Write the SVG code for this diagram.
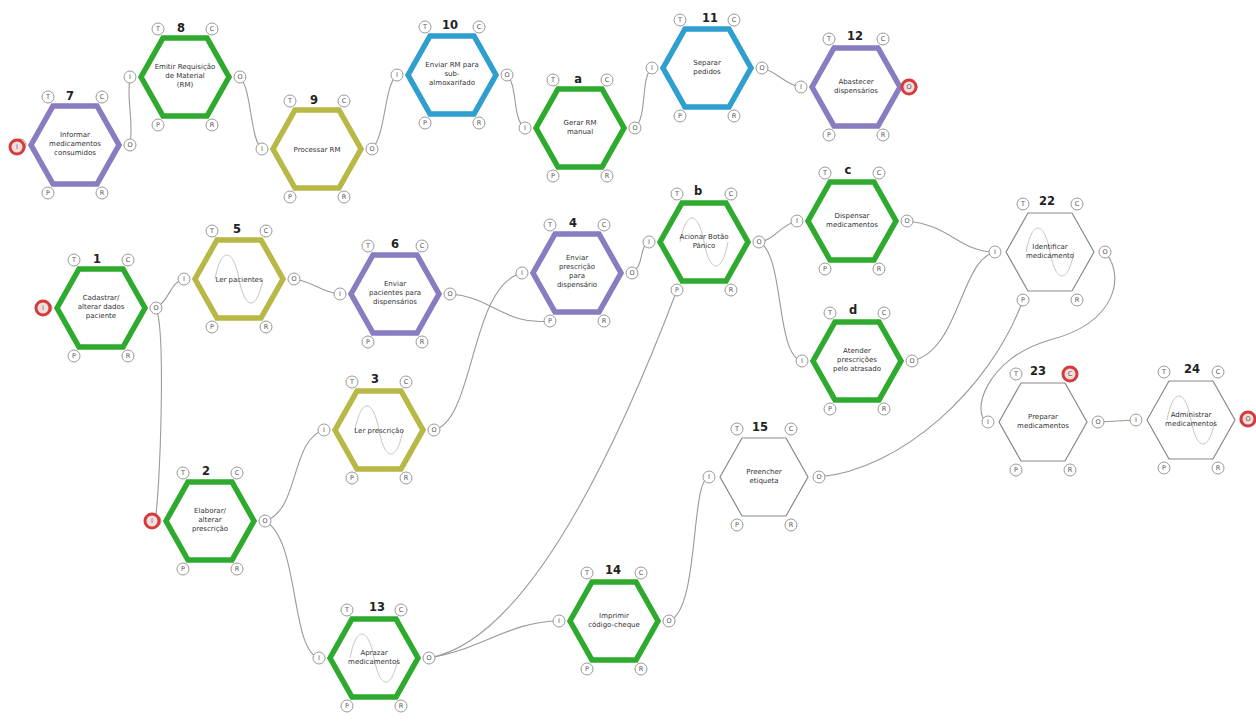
<svg xmlns="http://www.w3.org/2000/svg" xmlns:xlink="http://www.w3.org/1999/xlink" width="1256" height="725" viewBox="0 0 1256 725">
<style>
.hx{fill:#fff;stroke-width:5.5;stroke-linejoin:miter}
.g{stroke:#2eaa2e}
.p{stroke:#8a7cc0}
.y{stroke:#b8b846}
.b{stroke:#2f9fd0}
.w{stroke:#888;stroke-width:1.2}
.pc{fill:#fff;stroke:#999;stroke-width:1}
.pl{font-family:"DejaVu Sans",sans-serif;font-size:6.5px;fill:#555;text-anchor:middle;dominant-baseline:central}
.rc{fill:#f7dede;stroke:#d63a3a;stroke-width:3}
.lbl{font-family:"DejaVu Sans",sans-serif;font-weight:bold;font-size:11.5px;fill:#222;text-anchor:middle}
.tx{font-family:"DejaVu Sans",sans-serif;font-size:7px;fill:#333;text-anchor:middle}
.cn path{fill:none;stroke:#9a9a9a;stroke-width:1.1}
.wv{fill:none;stroke:#c4c4c4;stroke-width:1}
</style>
<defs>
<path id="hex" d="M-44,0 L-22,-39 L22,-39 L44,0 L22,39 L-22,39 Z"/>
<path id="wave" class="wv" d="M-24,0 C-18,-32 -6,-32 0,0 C6,32 18,32 24,0"/>
<g id="ports">
<circle class="pc" cx="-27" cy="-48" r="6"/><text class="pl" x="-27" y="-48">T</text>
<circle class="pc" cx="27" cy="-48" r="6"/><text class="pl" x="27" y="-48">C</text>
<circle class="pc" cx="-55" cy="0" r="6"/><text class="pl" x="-55" y="0">I</text>
<circle class="pc" cx="55" cy="0" r="6"/><text class="pl" x="55" y="0">O</text>
<circle class="pc" cx="-27" cy="48" r="6"/><text class="pl" x="-27" y="48">P</text>
<circle class="pc" cx="27" cy="48" r="6"/><text class="pl" x="27" y="48">R</text>
</g>
</defs>
<rect width="1256" height="725" fill="#fff"/>

<g class="cn" id="connectors">
<path d="M130,145 C134,120 126,100 130,77"/>
<path d="M240,77 C252,90 250,140 262,149"/>
<path d="M372,149 C386,135 384,85 397,75"/>
<path d="M507,75 C518,85 512,120 525,128"/>
<path d="M635,128 C648,115 640,78 652,68"/>
<path d="M762,68 C778,72 785,85 801,87"/>
<path d="M156,308 C170,300 170,282 184,279"/>
<path d="M156,308 C166,330 160,495 155,521"/>
<path d="M294,279 C315,282 320,292 340,294"/>
<path d="M450,294 C490,296 505,326 550,321"/>
<path d="M434,430 C475,420 470,285 522,273"/>
<path d="M265,521 C300,510 290,440 324,430"/>
<path d="M265,521 C300,540 290,650 319,658"/>
<path d="M632,273 C645,265 638,248 649,242"/>
<path d="M759,242 C775,240 780,225 797,221"/>
<path d="M759,242 C785,255 775,355 802,361"/>
<path d="M907,221 C950,225 960,252 995,252"/>
<path d="M912,361 C960,350 960,260 995,252"/>
<path d="M429,658 C530,640 620,440 677,290"/>
<path d="M429,658 C480,650 510,621 559,621"/>
<path d="M669,621 C700,610 690,480 709,477"/>
<path d="M819,477 C900,470 990,390 1023,300"/>
<path d="M1105,252 C1125,275 1118,322 1050,340 C985,358 970,415 988,422"/>
<path d="M1098,422 L1136,420"/>
</g>

<g id="n7" transform="translate(75,145)">
<use xlink:href="#hex" class="hx p"/><use xlink:href="#ports"/>
<circle class="rc" cx="-58" cy="2" r="7"/><text class="pl" x="-58" y="2">I</text>
<text class="lbl" x="-5" y="-45">7</text>
<text class="tx" y="-8">Informar</text><text class="tx" y="1">medicamentos</text><text class="tx" y="10">consumidos</text>
</g>
<g id="n8" transform="translate(185,77)">
<use xlink:href="#hex" class="hx g"/><use xlink:href="#ports"/>
<text class="lbl" x="-4" y="-45">8</text>
<text class="tx" y="-8">Emitir Requisição</text><text class="tx" y="1">de Material</text><text class="tx" y="10">(RM)</text>
</g>
<g id="n9" transform="translate(317,149)">
<use xlink:href="#hex" class="hx y"/><use xlink:href="#ports"/>
<text class="lbl" x="-3" y="-45">9</text>
<text class="tx" y="3">Processar RM</text>
</g>
<g id="n10" transform="translate(452,75)">
<use xlink:href="#hex" class="hx b"/><use xlink:href="#ports"/>
<text class="lbl" x="-2" y="-46">10</text>
<text class="tx" y="-8">Enviar RM para</text><text class="tx" y="1">sub-</text><text class="tx" y="10">almoxarifado</text>
</g>
<g id="na" transform="translate(580,128)">
<use xlink:href="#hex" class="hx g"/><use xlink:href="#ports"/>
<text class="lbl" x="-2" y="-45">a</text>
<text class="tx" y="-3">Gerar RM</text><text class="tx" y="6">manual</text>
</g>
<g id="n11" transform="translate(707,68)">
<use xlink:href="#hex" class="hx b"/><use xlink:href="#ports"/>
<text class="lbl" x="3" y="-46">11</text>
<text class="tx" y="-3">Separar</text><text class="tx" y="6">pedidos</text>
</g>
<g id="n12" transform="translate(856,87)">
<use xlink:href="#hex" class="hx p"/><use xlink:href="#ports"/>
<circle class="rc" cx="53" cy="0" r="7"/><text class="pl" x="53" y="0">O</text>
<text class="lbl" x="-1" y="-47">12</text>
<text class="tx" y="-3">Abastecer</text><text class="tx" y="6">dispensários</text>
</g>

<g id="n1" transform="translate(101,308)">
<use xlink:href="#hex" class="hx g"/><use xlink:href="#ports"/>
<circle class="rc" cx="-58" cy="0" r="7"/><text class="pl" x="-58" y="0">I</text>
<text class="lbl" x="-4" y="-45">1</text>
<text class="tx" y="-8">Cadastrar/</text><text class="tx" y="1">alterar dados</text><text class="tx" y="10">paciente</text>
</g>
<g id="n5" transform="translate(239,279)">
<use xlink:href="#hex" class="hx y"/><use xlink:href="#wave"/><use xlink:href="#ports"/>
<text class="lbl" x="-2" y="-46">5</text>
<text class="tx" y="3">Ler pacientes</text>
</g>
<g id="n6" transform="translate(395,294)">
<use xlink:href="#hex" class="hx p"/><use xlink:href="#ports"/>
<text class="lbl" x="0" y="-46">6</text>
<text class="tx" y="-8">Enviar</text><text class="tx" y="1">pacientes para</text><text class="tx" y="10">dispensários</text>
</g>
<g id="n4" transform="translate(577,273)">
<use xlink:href="#hex" class="hx p"/><use xlink:href="#ports"/>
<text class="lbl" x="-4" y="-46">4</text>
<text class="tx" y="-13">Enviar</text><text class="tx" y="-4">prescrição</text><text class="tx" y="5">para</text><text class="tx" y="14">dispensário</text>
</g>
<g id="nb" transform="translate(704,242)">
<use xlink:href="#hex" class="hx g"/><use xlink:href="#wave"/><use xlink:href="#ports"/>
<text class="lbl" x="-6" y="-47">b</text>
<text class="tx" y="-3">Acionar Botão</text><text class="tx" y="6">Pânico</text>
</g>
<g id="nc" transform="translate(852,221)">
<use xlink:href="#hex" class="hx g"/><use xlink:href="#ports"/>
<text class="lbl" x="-4" y="-47">c</text>
<text class="tx" y="-3">Dispensar</text><text class="tx" y="6">medicamentos</text>
</g>
<g id="nd" transform="translate(857,361)">
<use xlink:href="#hex" class="hx g"/><use xlink:href="#ports"/>
<text class="lbl" x="-4" y="-47">d</text>
<text class="tx" y="-8">Atender</text><text class="tx" y="1">prescrições</text><text class="tx" y="10">pelo atrasado</text>
</g>
<g id="n22" transform="translate(1050,252)">
<use xlink:href="#hex" class="hx w"/><use xlink:href="#wave"/><use xlink:href="#ports"/>
<text class="lbl" x="-3" y="-47">22</text>
<text class="tx" y="-3">Identificar</text><text class="tx" y="6">medicamento</text>
</g>
<g id="n23" transform="translate(1043,422)">
<use xlink:href="#hex" class="hx w"/><use xlink:href="#ports"/>
<circle class="rc" cx="27" cy="-48" r="7"/><text class="pl" x="27" y="-48">C</text>
<text class="lbl" x="-5" y="-47">23</text>
<text class="tx" y="-3">Preparar</text><text class="tx" y="6">medicamentos</text>
</g>
<g id="n24" transform="translate(1191,420)">
<use xlink:href="#hex" class="hx w"/><use xlink:href="#wave"/><use xlink:href="#ports"/>
<circle class="rc" cx="57" cy="-1" r="7"/><text class="pl" x="57" y="-1">O</text>
<text class="lbl" x="1" y="-47">24</text>
<text class="tx" y="-3">Administrar</text><text class="tx" y="6">medicamentos</text>
</g>

<g id="n3" transform="translate(379,430)">
<use xlink:href="#hex" class="hx y"/><use xlink:href="#wave"/><use xlink:href="#ports"/>
<text class="lbl" x="-4" y="-47">3</text>
<text class="tx" y="3">Ler prescrição</text>
</g>
<g id="n2" transform="translate(210,521)">
<use xlink:href="#hex" class="hx g"/><use xlink:href="#ports"/>
<circle class="rc" cx="-58" cy="0" r="7"/><text class="pl" x="-58" y="0">I</text>
<text class="lbl" x="-4" y="-46">2</text>
<text class="tx" y="-8">Elaborar/</text><text class="tx" y="1">alterar</text><text class="tx" y="10">prescrição</text>
</g>
<g id="n13" transform="translate(374,658)">
<use xlink:href="#hex" class="hx g"/><use xlink:href="#wave"/><use xlink:href="#ports"/>
<text class="lbl" x="3" y="-47">13</text>
<text class="tx" y="-3">Aprazar</text><text class="tx" y="6">medicamentos</text>
</g>
<g id="n14" transform="translate(614,621)">
<use xlink:href="#hex" class="hx g"/><use xlink:href="#ports"/>
<text class="lbl" x="-1" y="-47">14</text>
<text class="tx" y="-3">Imprimir</text><text class="tx" y="6">código-cheque</text>
</g>
<g id="n15" transform="translate(764,477)">
<use xlink:href="#hex" class="hx w"/><use xlink:href="#ports"/>
<text class="lbl" x="-4" y="-46">15</text>
<text class="tx" y="-3">Preencher</text><text class="tx" y="6">etiqueta</text>
</g>
</svg>
